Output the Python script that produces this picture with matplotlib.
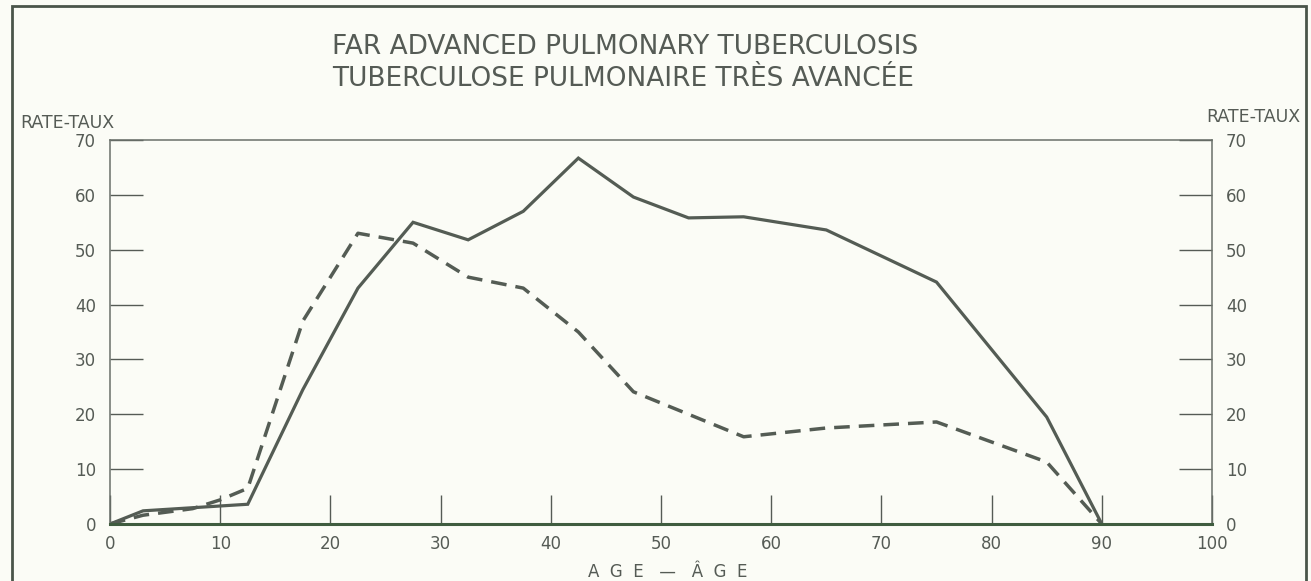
import matplotlib.pyplot as plt
import matplotlib.patches as mpatches

# Data (age vs rate)
age_solid = [0, 3, 12.5, 17.5, 22.5, 27.5, 32.5, 37.5, 42.5, 47.5, 52.5, 57.5, 65, 75, 85, 90]
rate_solid = [0, 2.4, 3.6, 24.5, 43, 55, 51.8, 57, 66.7, 59.6, 55.8, 56, 53.6, 44.1, 19.5, 0]

age_dashed = [0, 3, 7.5, 10, 12.5, 17.5, 22.5, 27.5, 32.5, 37.5, 42.5, 47.5, 57.5, 65, 75, 85, 90]
rate_dashed = [0, 1.6, 2.8, 4.4, 6.5, 37, 53, 51.2, 45, 43, 35, 24.1, 15.9, 17.5, 18.6, 11.3, 0]

x_ticks = [0, 10, 20, 30, 40, 50, 60, 70, 80, 90, 100]
y_ticks = [0, 10, 20, 30, 40, 50, 60, 70]

title1 = 'FAR ADVANCED PULMONARY TUBERCULOSIS'
title2 = 'TUBERCULOSE PULMONAIRE TRÈS AVANCÉE'
ylab = 'RATE-TAUX'
xlab = 'A  G  E   —   Â  G  E'

bg = '#fbfcf6'
ink = '#555b55'
line_col = '#545c54'
W, H = 1311, 581

fig = plt.figure(figsize=(W / 100, H / 100), dpi=100, facecolor=bg)
ax = fig.add_axes([110 / W, 1 - 524 / H, (1212 - 110) / W, (524 - 140) / H])
ax.set_facecolor(bg)

ax.plot(age_solid, rate_solid, color=line_col, lw=2.3, solid_joinstyle='miter')
ax.plot(age_dashed, rate_dashed, color=line_col, lw=2.5, dashes=(4.5, 2.6))

ax.set_xlim(0, 100)
ax.set_ylim(0, 70)
ax.set_xticks(x_ticks)
ax.set_yticks(y_ticks)

ax.tick_params(axis='x', direction='in', length=21, width=1, color=ink,
               labelsize=12, labelcolor=ink, pad=8)
ax.tick_params(axis='y', direction='in', length=24, width=1, color=ink,
               labelsize=12, labelcolor=ink, pad=10, left=True, right=True,
               labelleft=True, labelright=True)

for side in ['left', 'top', 'right']:
    ax.spines[side].set_color('#6a706a')
    ax.spines[side].set_linewidth(1.1)
ax.spines['bottom'].set_color('#3f5c3f')
ax.spines['bottom'].set_linewidth(2.2)

fig.text(332 / W, 1 - 47 / H, title1, ha='left', va='center', fontsize=19, color=ink)
fig.text(332 / W, 1 - 79 / H, title2, ha='left', va='center', fontsize=19, color=ink)
fig.text(20 / W, 1 - 123 / H, ylab, ha='left', va='center', fontsize=12.5, color=ink)
fig.text(1300 / W, 1 - 117 / H, ylab, ha='right', va='center', fontsize=12.5, color=ink)
fig.text(668 / W, 1 - 572 / H, xlab, ha='center', va='center', fontsize=12, color=ink)

# outer frame of the plate
frame = mpatches.Rectangle((12 / W, -0.02), (1306 - 12) / W, 1 - 6 / H + 0.02,
                           transform=fig.transFigure, fill=False,
                           edgecolor='#4a554a', linewidth=2.0)
fig.patches.append(frame)

fig.savefig('out.png', dpi=100, facecolor=bg)
